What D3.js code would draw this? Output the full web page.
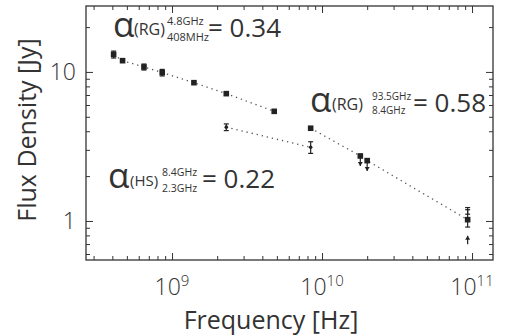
<!DOCTYPE html>
<html><head><meta charset="utf-8">
<script src="https://cdn.jsdelivr.net/npm/d3@7/dist/d3.min.js"></script>
<style>
body{margin:0;background:#fff}
svg text{font-family:"Open Sans",sans-serif;fill:#333}
</style></head><body>
<script>
// RG spectrum, low frequency part (408 MHz - 4.8 GHz)
var rg1Freq = [0.408e9, 0.468e9, 0.65e9, 0.86e9, 1.4e9, 2.3e9, 4.8e9];
var rg1Flux = [13.1, 11.9, 10.8, 9.9, 8.47, 7.15, 5.44];
var rg1Err  = [0.7, 0, 0.5, 0.5, 0, 0, 0];

// HS points
var hsFreq = [2.3e9, 8.4e9];
var hsFlux = [4.26, 3.12];
var hsErr  = [0.22, 0.28];

// RG spectrum, high frequency part (8.4 - 93.5 GHz)
var rg2Freq  = [8.4e9, 18e9, 20e9, 93.5e9];
var rg2Flux  = [4.19, 2.73, 2.54, 1.02];
var rg2Lo    = [4.19, 2.73, 2.54, 0.91];
var rg2Hi    = [4.19, 2.73, 2.54, 1.23];
var rg2Upper = [null, 2.34, 2.16, null];   // arrow tips of upper limits

// extra 93.5 GHz measurements
var extraFreq = [93.5e9];
var extraFlux = [1.15];
var extraErr  = [0.04];
var lowerFreq = [93.5e9];
var lowerFrom = [0.698];
var lowerTo   = [0.797];

var xTickExp = ["9", "10", "11"];
var yTickLabels = ["1", "10"];

var W = 505, H = 335;
var pl = 86, pr = 493, pt = 6, pb = 260;

var x = d3.scaleLog().domain([2.67e8, 1.38e11]).range([pl, pr]);
var y = d3.scaleLog().domain([0.547, 27.7]).range([pb, pt]);

var svg = d3.select("body").append("svg")
  .attr("width", W).attr("height", H);

function isMajor(v) {
  var l = Math.log10(v);
  return Math.abs(l - Math.round(l)) < 1e-6;
}

// axes on all four sides, ticks pointing inward
function styleAxis(g, sign, horiz) {
  g.select(".domain").remove();
  g.selectAll(".tick line")
    .attr("stroke", "#333")
    .attr(horiz ? "y2" : "x2", function(d) { return sign * (isMajor(d) ? 7 : 4); });
  g.selectAll(".tick text").remove();
}
var gb = svg.append("g").attr("transform", "translate(0," + pb + ")")
  .call(d3.axisBottom(x).tickValues(x.ticks()).tickSizeOuter(0));
styleAxis(gb, -1, true);
var gt = svg.append("g").attr("transform", "translate(0," + pt + ")")
  .call(d3.axisTop(x).tickValues(x.ticks()).tickSizeOuter(0));
styleAxis(gt, 1, true);
var gl = svg.append("g").attr("transform", "translate(" + pl + ",0)")
  .call(d3.axisLeft(y).tickValues(y.ticks()).tickSizeOuter(0));
styleAxis(gl, 1, false);
var gr = svg.append("g").attr("transform", "translate(" + pr + ",0)")
  .call(d3.axisRight(y).tickValues(y.ticks()).tickSizeOuter(0));
styleAxis(gr, -1, false);

svg.append("rect")
  .attr("x", pl).attr("y", pt)
  .attr("width", pr - pl).attr("height", pb - pt)
  .attr("fill", "none").attr("stroke", "#333").attr("stroke-width", 1.3);

// tick labels
xTickExp.forEach(function(e) {
  var t = svg.append("text")
    .attr("x", x(Math.pow(10, +e))).attr("y", 295)
    .attr("text-anchor", "middle")
    .attr("font-size", 23).attr("font-weight", 300);
  t.append("tspan").text("10");
  t.append("tspan").attr("dy", -9).attr("font-size", 15).text(e);
});
yTickLabels.forEach(function(l) {
  svg.append("text")
    .attr("x", 76).attr("y", y(+l) + 8)
    .attr("text-anchor", "end")
    .attr("font-size", 23).attr("font-weight", 300)
    .text(l);
});

// axis titles
svg.append("text")
  .attr("x", 271).attr("y", 329)
  .attr("text-anchor", "middle").attr("font-size", 25)
  .text("Frequency [Hz]");
svg.append("text")
  .attr("transform", "translate(36,130) rotate(-90)")
  .attr("text-anchor", "middle").attr("font-size", 25)
  .text("Flux Density [Jy]");

// dotted lines
var line = d3.line()
  .x(function(d) { return x(d[0]); })
  .y(function(d) { return y(d[1]); });
function dotted(fr, fl) {
  svg.append("path")
    .attr("d", line(d3.zip(fr, fl)))
    .attr("fill", "none").attr("stroke", "#555")
    .attr("stroke-width", 1.3).attr("stroke-dasharray", "1.3 3.9");
}
dotted(rg1Freq, rg1Flux);
dotted(hsFreq, hsFlux);
dotted(rg2Freq, rg2Flux);

function errBar(f, lo, hi) {
  if (lo === hi) return;
  var cx = x(f);
  var g = svg.append("g").attr("stroke", "#222").attr("stroke-width", 1.2);
  g.append("line").attr("x1", cx).attr("x2", cx).attr("y1", y(lo)).attr("y2", y(hi));
  g.append("line").attr("x1", cx - 2.5).attr("x2", cx + 2.5).attr("y1", y(lo)).attr("y2", y(lo));
  g.append("line").attr("x1", cx - 2.5).attr("x2", cx + 2.5).attr("y1", y(hi)).attr("y2", y(hi));
}
function square(f, s) {
  svg.append("rect")
    .attr("x", x(f) - 2.8).attr("y", y(s) - 2.8)
    .attr("width", 5.6).attr("height", 5.6).attr("fill", "#222");
}
function arrow(f, from, to) {
  var cx = x(f), y1 = y(from), y2 = y(to), dir = y2 > y1 ? 1 : -1;
  svg.append("line").attr("x1", cx).attr("x2", cx).attr("y1", y1).attr("y2", y2)
    .attr("stroke", "#222").attr("stroke-width", 1.2);
  svg.append("path")
    .attr("d", "M" + (cx - 2.5) + "," + (y2 - dir * 4) + "L" + cx + "," + y2 + "L" + (cx + 2.5) + "," + (y2 - dir * 4) + "Z")
    .attr("fill", "#222");
}

rg1Freq.forEach(function(f, i) {
  errBar(f, rg1Flux[i] - rg1Err[i], rg1Flux[i] + rg1Err[i]);
  square(f, rg1Flux[i]);
});
hsFreq.forEach(function(f, i) {
  errBar(f, hsFlux[i] - hsErr[i], hsFlux[i] + hsErr[i]);
  svg.append("circle").attr("cx", x(f)).attr("cy", y(hsFlux[i])).attr("r", 1.8).attr("fill", "#222");
});
rg2Freq.forEach(function(f, i) {
  errBar(f, rg2Lo[i], rg2Hi[i]);
  if (rg2Upper[i] !== null) arrow(f, rg2Flux[i], rg2Upper[i]);
  square(f, rg2Flux[i]);
});
extraFreq.forEach(function(f, i) {
  errBar(f, extraFlux[i] - extraErr[i], extraFlux[i] + extraErr[i]);
});
lowerFreq.forEach(function(f, i) {
  arrow(f, lowerFrom[i], lowerTo[i]);
});

// spectral index annotations
function alphaLabel(ax, base, sub, sup, val, o) {
  var g = svg.append("g");
  g.append("text").attr("x", ax).attr("y", base).attr("font-size", 35).text("\u03b1");
  g.append("text").attr("x", ax + o.src).attr("y", base - 2).attr("font-size", o.srcSize).text(sub);
  g.append("text").attr("x", ax + o.sc).attr("y", base - 12).attr("font-size", o.scSize).text(sup[0]);
  g.append("text").attr("x", ax + o.sc).attr("y", base + o.lo).attr("font-size", o.scSize).text(sup[1]);
  g.append("text").attr("x", ax + o.eq).attr("y", base).attr("font-size", 26).text("= " + val);
}
alphaLabel(113, 37, "(RG)", ["4.8GHz", "408MHz"], "0.34", {src: 21, srcSize: 16, sc: 54, scSize: 11, lo: 4, eq: 95});
alphaLabel(310, 112, "(RG)", ["93.5GHz", "8.4GHz"], "0.58", {src: 22, srcSize: 16, sc: 62, scSize: 10, lo: 2, eq: 103});
alphaLabel(108, 188, "(HS)", ["8.4GHz", "2.3GHz"], "0.22", {src: 22, srcSize: 15, sc: 54, scSize: 10.5, lo: 4, eq: 94});
</script>
</body></html>
